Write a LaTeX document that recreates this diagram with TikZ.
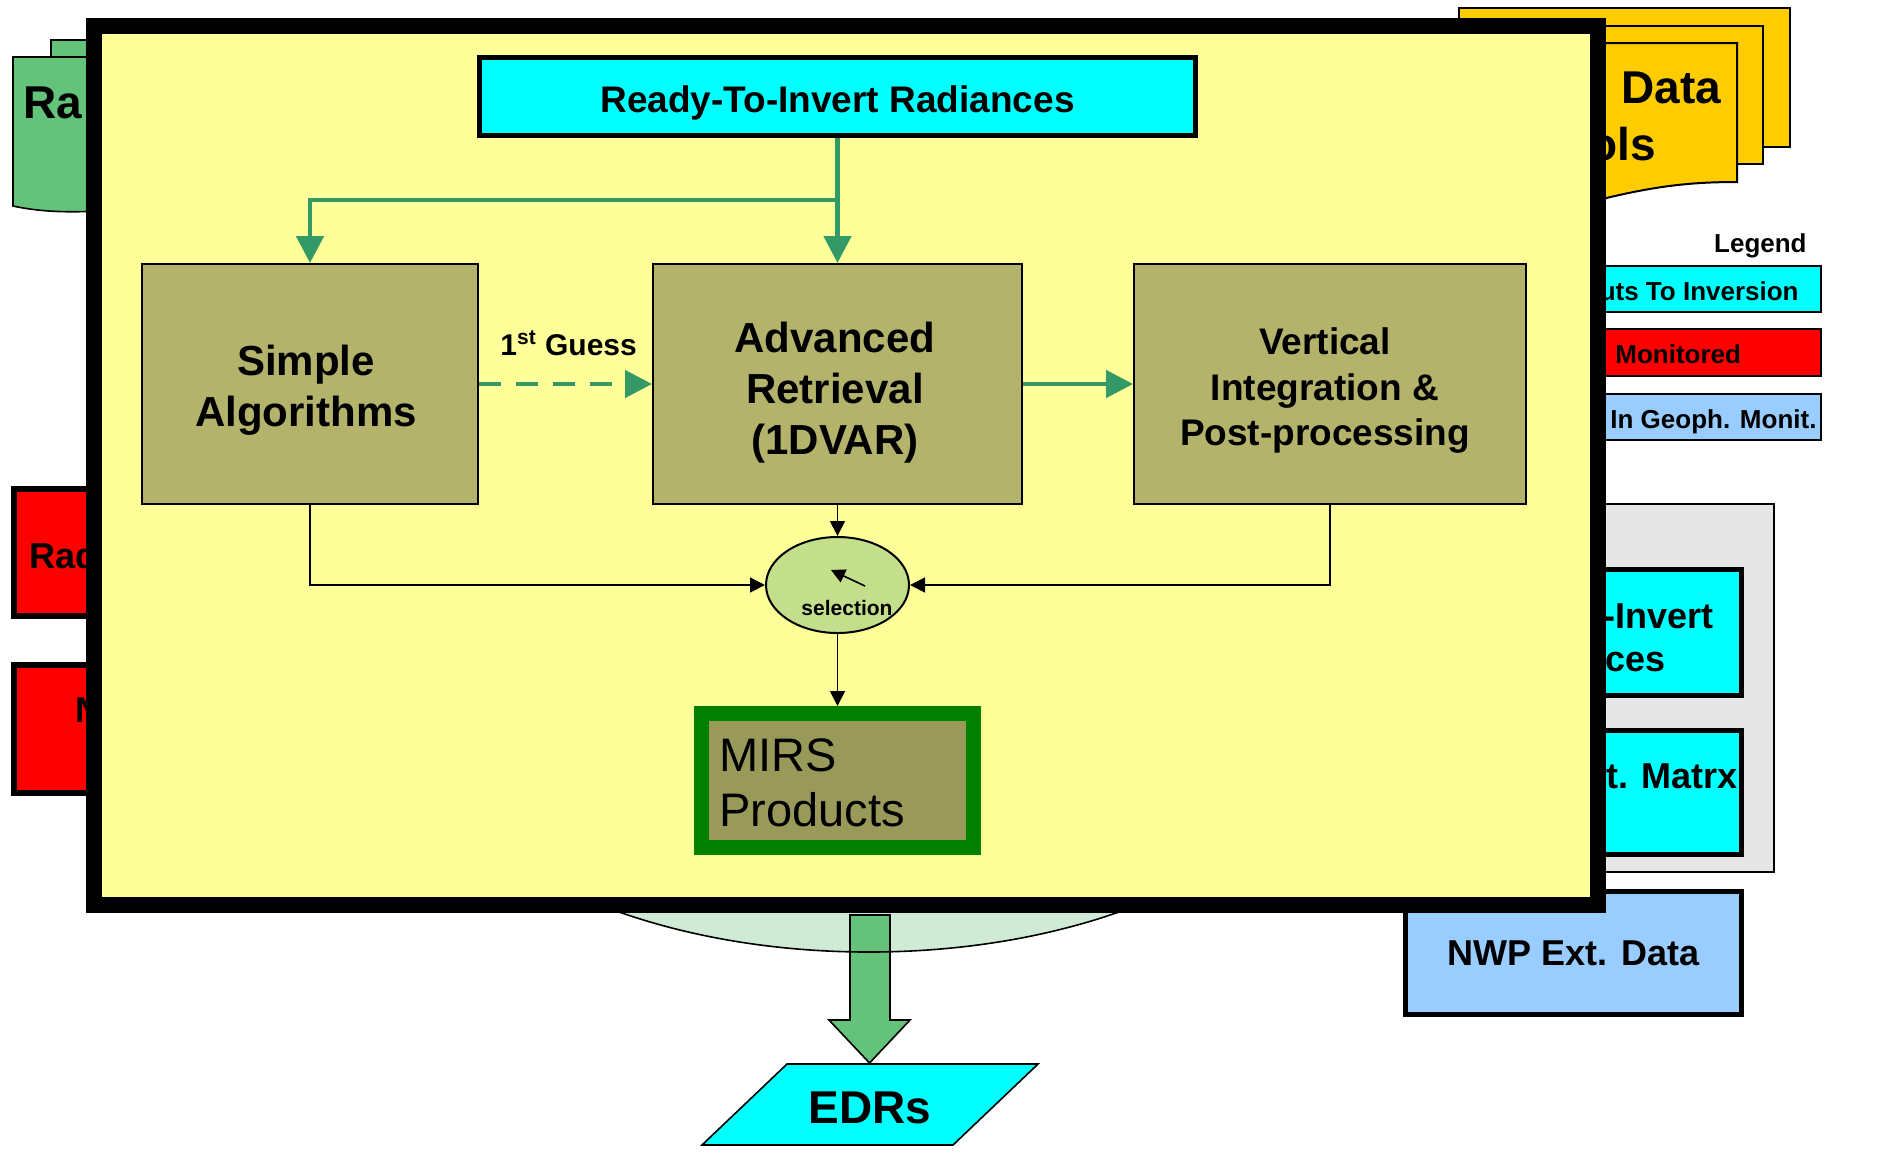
\documentclass[tikz,border=0pt]{standalone}
\usepackage{fontspec}
\setmainfont{Liberation Sans}
\usetikzlibrary{arrows.meta,shapes.geometric}
\newcommand\fsz[2]{\fontsize{#1}{#2}\selectfont}
\definecolor{frameyellow}{HTML}{FFFF99}
\definecolor{boxolive}{HTML}{B3B36B}
\definecolor{gline}{HTML}{339966}
\definecolor{cyanbox}{HTML}{00FFFF}
\definecolor{redbox}{HTML}{FF0000}
\definecolor{bluebox}{HTML}{99CCFF}
\definecolor{goldbox}{HTML}{FFCC00}
\definecolor{graybox}{HTML}{E6E6E6}
\definecolor{selgreen}{HTML}{C3DF8C}
\definecolor{mirsin}{HTML}{99995A}
\definecolor{mirsborder}{HTML}{008000}
\definecolor{lightgreen}{HTML}{CFEBD5}
\definecolor{docgreen}{HTML}{63C37A}
\begin{document}
\begin{tikzpicture}[x=0.5pt,y=-0.5pt,
  garrow/.style={draw=gline, line width=2.4pt, -{Triangle[width=13.5pt,length=13.5pt]}},
  barrow/.style={draw=black, line width=0.85pt, -{Triangle[width=7.5pt,length=7.5pt]}},
  procbox/.style={draw=black, line width=1pt, fill=boxolive, inner sep=0pt, minimum height=120pt},
  frag/.style={inner sep=0pt, font=\fsz{18pt}{22pt}\bfseries},
  bigfrag/.style={inner sep=0pt, font=\fsz{23pt}{27pt}\bfseries},
  legfrag/.style={inner sep=0pt, font=\fsz{13pt}{15pt}\bfseries},
  thinline/.style={draw=black, line width=0.8pt}]
\useasboundingbox (0,0) rectangle (1883,1153);

% ---- background: left green document stack
\draw[thinline, fill=docgreen] (51,40) rectangle (300,190);
\draw[thinline, fill=docgreen] (13,57) -- (300,57) -- (300,200) .. controls (200,190) and (100,225) .. (13,206) -- cycle;
\node[bigfrag, anchor=base west] (ratxt) at (23,118) {Ra};

% ---- left red boxes
\draw[line width=3pt, fill=redbox] (14,489) rectangle (300,616);
\node[frag, anchor=base west] (radtxt) at (29,568) {Rad};
\draw[line width=3pt, fill=redbox] (14,665) rectangle (300,793);
\node[frag, anchor=base west] (ntxt) at (75,722) {N};

% ---- right yellow document stack
\draw[line width=1pt, fill=goldbox] (1459,8) rectangle (1790,147);
\draw[line width=1pt, fill=goldbox] (1430,26) rectangle (1763,164);
\draw[line width=1pt, fill=goldbox] (1400,43) -- (1737,43) -- (1737,182) .. controls (1680,182) and (1640,188) .. (1560,210) -- (1400,210) -- cycle;
\node[bigfrag, anchor=base west] (datatxt) at (1621,103) {Data};
\node[bigfrag, anchor=base east] (olstxt) at (1656,160) {ols};

% ---- legend
\node[legfrag, anchor=base east] (legend) at (1807,252) {Legend};
\draw[line width=1pt, fill=cyanbox] (1500,266) rectangle (1821,312);
\node[legfrag, anchor=base east] (leg1) at (1799,300) {uts To Inversion};
\draw[line width=1pt, fill=redbox] (1500,329) rectangle (1821,376);
\node[legfrag, anchor=base west] (leg2) at (1615,363) {Monitored};
\draw[line width=1pt, fill=bluebox] (1500,394) rectangle (1821,440);
\node[legfrag, anchor=base west] (leg3) at (1610,428) {In Geoph. Monit.};

% ---- right gray container
\draw[line width=0.6pt, fill=graybox] (1500,504) rectangle (1774,872);
\draw[line width=2.5pt, fill=cyanbox] (1500,569.5) rectangle (1741.5,695.5);
\node[frag, anchor=base east] (inv1) at (1714,628) {-Invert};
\node[frag, anchor=base east] (inv2) at (1666,671) {ces};
\draw[line width=2.5pt, fill=cyanbox] (1500,730.5) rectangle (1741.5,854.5);
\node[frag, anchor=base east] (matrx) at (1738,788) {t. Matrx};
\node[draw=black, line width=2.5pt, fill=bluebox, minimum width=168pt, minimum height=61.5pt,
      inner sep=0pt, font=\fsz{18pt}{22pt}\bfseries] (nwp) at (1573.5,953) {NWP Ext. Data};

% ---- bottom: ellipse, block arrow, EDRs
\fill[lightgreen] (869,700) ellipse [x radius=231pt, y radius=126pt];
\draw[thinline, fill=docgreen] (850,915) -- (890,915) -- (890,1020) -- (910,1020) -- (869.5,1063)
      -- (829,1020) -- (850,1020) -- cycle;
\draw[thinline] (869,700) ellipse [x radius=231pt, y radius=126pt];
\draw[thinline, fill=cyanbox] (787,1064) -- (1038,1064) -- (953,1145) -- (702,1145) -- cycle;
\node[anchor=base, inner sep=0pt, font=\fsz{23pt}{27pt}\bfseries] (edrs) at (870,1123) {EDRs};

% ---- main frame
\draw[line width=8pt, fill=frameyellow] (94,26) rectangle (1598,905);

% ---- process nodes
\node[draw=black, line width=2.5pt, fill=cyanbox, minimum width=358pt, minimum height=39pt,
      outer sep=1.25pt, inner sep=0pt, text height=15.5pt, text depth=0pt,
      font=\fsz{18.5pt}{22pt}\bfseries] (rti) at (837.5,96.5) {Ready-To-Invert Radiances};
\node[procbox, minimum width=168pt] (simple) at (310,384) {};
\node[procbox, minimum width=184.5pt] (adv) at (837.5,384) {};
\node[procbox, minimum width=196pt] (vert) at (1330,384) {};
\node[align=center, inner sep=0pt, font=\fsz{21pt}{25.5pt}\bfseries] (simpletxt) at (306,390) {Simple\\Algorithms};
\node[align=center, inner sep=0pt, font=\fsz{21pt}{25.5pt}\bfseries] (advtxt) at (835,392.4) {Advanced\\Retrieval\\(1DVAR)};
\node[align=center, inner sep=0pt, font=\fsz{18.5pt}{22.75pt}\bfseries] (verttxt) at (1325,391) {Vertical\\Integration \&\\Post-processing};
\node[anchor=base west, inner sep=0pt, font=\fsz{15pt}{18pt}\bfseries] (guess) at (500,355) {1\textsuperscript{st} Guess};

\node[ellipse, draw=black, line width=1pt, fill=selgreen, minimum width=71.5pt, minimum height=48pt,
      inner sep=0pt] (sel) at (837.5,585) {};
\node[anchor=base, inner sep=0pt, font=\fsz{10.5pt}{12pt}\bfseries] (seltxt) at (847,615) {selection};
\coordinate (ptail) at (865,586);
\coordinate (phead) at (831,570);
\draw[line width=0.8pt, -{Triangle[width=7pt,length=7pt]}] (ptail) -- (phead);

\node[draw=mirsborder, line width=7.5pt, fill=mirsin, minimum width=136pt, minimum height=67pt,
      outer sep=3.75pt, inner sep=0pt] (mirs) at (837.5,780.5) {};
\node[anchor=north west, align=left, inner sep=0pt, font=\fsz{23.5pt}{27.5pt}] (mirstxt) at (719,738) {MIRS\\Products};

% ---- connectors
\coordinate (br) at (837.5,200);
\draw[garrow] (rti.south) -- (adv.north);
\draw[garrow] (br) -| (simple.north);
\draw[garrow, dash pattern=on 11pt off 7.5pt] (simple.east) -- (adv.west);
\draw[garrow] (adv.east) -- (vert.west);
\draw[barrow] (adv.south) -- (sel.north);
\draw[barrow] (simple.south) |- (sel.west);
\draw[barrow] (vert.south) |- (sel.east);
\draw[barrow] (sel.south) -- (mirs.north);
\end{tikzpicture}
\end{document}
